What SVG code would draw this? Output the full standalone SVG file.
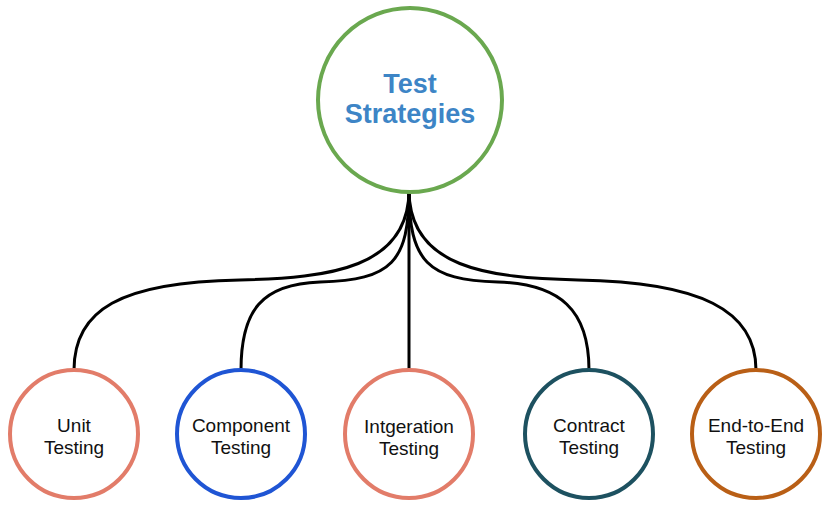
<svg xmlns="http://www.w3.org/2000/svg" width="834" height="512" viewBox="0 0 834 512">
<style>
.node{fill:#fff;stroke-width:4}
.lbl{font-family:"Liberation Sans",Arial,sans-serif;font-size:19px;fill:#111;text-anchor:middle}
.title{font-family:"Liberation Sans",Arial,sans-serif;font-size:27px;font-weight:bold;fill:#3d85c6;text-anchor:middle}
.edge{fill:none;stroke:#000;stroke-width:3}
</style>
<rect width="834" height="512" fill="#fff"/>
<g id="connectors">
<path class="edge" d="M409,190 C409,268 330,278 240,280 C120,282 74,310 74,370"/>
<path class="edge" d="M409,190 C409,262 392,280 320,282 C262,284 241,310 241,370"/>
<path class="edge" d="M409,190 L409,370"/>
<path class="edge" d="M409,190 C409,262 428,280 498,282 C560,284 589,310 589,370"/>
<path class="edge" d="M409,190 C409,268 488,278 578,280 C700,282 756,310 756,370"/>
</g>
<g id="test-strategies">
<circle class="node" cx="410" cy="100" r="92" stroke="#6aa84f"/>
<text class="title" x="410" y="93">Test</text>
<text class="title" x="410" y="123">Strategies</text>
</g>
<g id="unit-testing">
<circle class="node" cx="74" cy="434" r="64" stroke="#e27c69"/>
<text class="lbl" x="74" y="432">Unit</text>
<text class="lbl" x="74" y="454">Testing</text>
</g>
<g id="component-testing">
<circle class="node" cx="241" cy="434" r="64" stroke="#1f55d4"/>
<text class="lbl" x="241" y="432">Component</text>
<text class="lbl" x="241" y="454">Testing</text>
</g>
<g id="integration-testing">
<circle class="node" cx="409" cy="434" r="64" stroke="#e27c69"/>
<text class="lbl" x="409" y="433">Intgeration</text>
<text class="lbl" x="409" y="455">Testing</text>
</g>
<g id="contract-testing">
<circle class="node" cx="589" cy="434" r="64" stroke="#1d5160"/>
<text class="lbl" x="589" y="432">Contract</text>
<text class="lbl" x="589" y="454">Testing</text>
</g>
<g id="end-to-end-testing">
<circle class="node" cx="756" cy="434" r="64" stroke="#b95f16"/>
<text class="lbl" x="756" y="432">End-to-End</text>
<text class="lbl" x="756" y="454">Testing</text>
</g>
</svg>
